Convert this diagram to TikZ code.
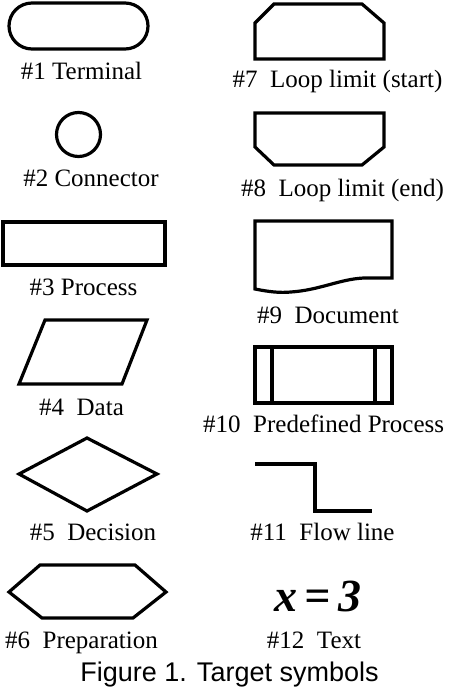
\documentclass[tikz,border=0pt]{standalone}
\usepackage{fontspec}
\setmainfont{Liberation Serif}
\newfontfamily\capfont{Liberation Sans}
\begin{document}
\begin{tikzpicture}[x=1pt,y=-1pt,
  sym/.style={draw=black,line width=3.2pt,line join=miter},
  lbl/.style={anchor=base,inner sep=0pt,font=\fontsize{25}{25}\selectfont}]
\path[use as bounding box] (0,0) rectangle (448,692);
% left column
\draw[sym,rounded corners=23pt] (9,3) rectangle (148,49);
\node[lbl] (l1) at (81.5,80) {\#1 Terminal};
\draw[sym] (78.5,134.5) circle[radius=22];
\node[lbl] (l2) at (91,187) {\#2 Connector};
\draw[sym] (3,222) rectangle (165,265);
\node[lbl] (l3) at (83.5,295) {\#3 Process};
\draw[sym] (45,320) -- (147,320) -- (122,384) -- (19,384) -- cycle;
\node[lbl] (l4) at (81.5,415) {\#4\ \ Data};
\draw[sym] (87,438) -- (157,474) -- (87,511) -- (19,474) -- cycle;
\node[lbl] (l5) at (93,540) {\#5\ \ Decision};
\draw[sym] (9,592) -- (40,565) -- (135,565) -- (166,592) -- (133,618) -- (42,618) -- cycle;
\node[lbl] (l6) at (81.5,648) {\#6\ \ Preparation};
% right column
\draw[sym] (255,59) -- (255,23) -- (274,4) -- (362,4) -- (384,23) -- (384,59) -- cycle;
\node[lbl] (l7) at (337.5,88) {\#7\ \ Loop limit (start)};
\draw[sym] (255,113) -- (384,113) -- (384,147) -- (362,165) -- (274,165) -- (255,147) -- cycle;
\node[lbl] (l8) at (342.5,197) {\#8\ \ Loop limit (end)};
\draw[sym] (392,278) -- (392,221) -- (255,221) -- (255,289)
  .. controls (270,292) and (280,293) .. (291,292)
  .. controls (320,290) and (340,279) .. (364,278) -- cycle;
\node[lbl] (l9) at (328,323) {\#9\ \ Document};
\draw[sym] (255,347) rectangle (392,403);
\draw[sym] (272,347) -- (272,403);
\draw[sym] (375,347) -- (375,403);
\node[lbl,anchor=base west] (l10) at (203,432) {\#10\ \ Predefined Process};
\draw[sym] (255,464) -- (315,464) -- (315,511) -- (372,511);
\node[lbl] (l11) at (322.5,540) {\#11\ \ Flow line};
\node[anchor=base,inner sep=0pt,font=\fontsize{46}{46}\selectfont\bfseries\itshape] (t12) at (318,611) {x\,=\,3};
\node[lbl] (l12) at (314,648) {\#12\ \ Text};
% caption
\node[anchor=base,inner sep=0pt,font=\capfont\fontsize{27}{27}\selectfont] (cap) at (229.5,681) {Figure 1. Target symbols};
\end{tikzpicture}
\end{document}
